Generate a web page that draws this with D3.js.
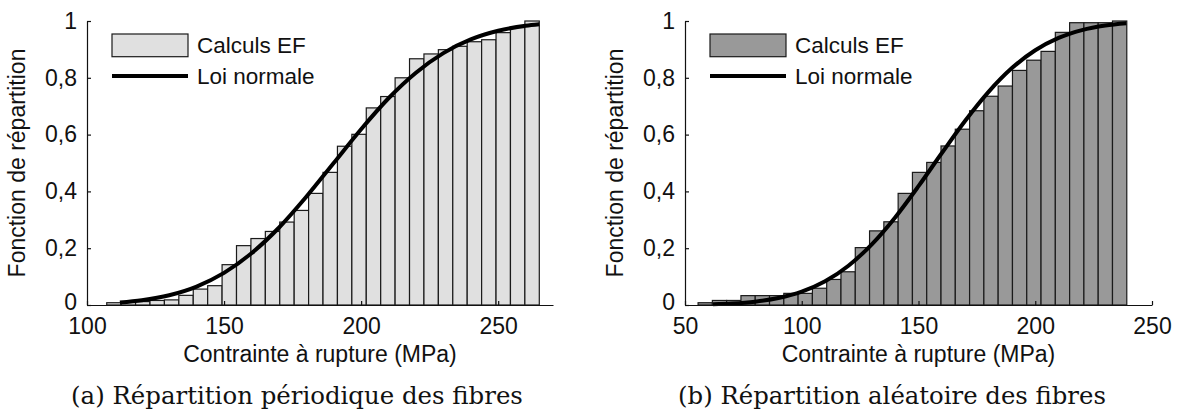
<!DOCTYPE html>
<html><head><meta charset="utf-8">
<script src="https://cdn.jsdelivr.net/npm/d3@7/dist/d3.min.js"></script>
<style>
body{margin:0;background:#fff;}
svg{display:block;}
text{font-family:"Liberation Sans",Arial,sans-serif;fill:#111;}
.cap{font-family:"DejaVu Serif",serif;}
</style></head><body>
<svg id="c" width="1178" height="415"></svg>
<script>
// ---- data ----
// (a) periodic: cumulative histogram (30 bins) between range limits
const rangeA = [107.2, 265.0];
const cdfA = [0.008,0.009,0.012,0.016,0.018,0.034,0.056,0.068,0.142,0.209,
              0.234,0.259,0.292,0.333,0.393,0.467,0.559,0.601,0.694,0.734,
              0.800,0.867,0.884,0.899,0.911,0.927,0.934,0.959,0.977,1.000];
const normXA = [112,120,130,140,150,160,170,180,190,200,210,220,230,240,250,260,265];
const normYA = [0.009,0.017,0.0345,0.065,0.113,0.182,0.272,0.381,0.500,0.619,0.728,0.818,0.887,0.935,0.9655,0.983,0.9885];
const ticksXA = [100,150,200,250];
const domainXA = [100,270];

// (b) random
const rangeB = [55.6, 239.2];
const cdfB = [0.008,0.016,0.016,0.033,0.033,0.033,0.041,0.041,0.059,0.090,
              0.117,0.202,0.261,0.293,0.393,0.467,0.502,0.560,0.619,0.684,
              0.735,0.771,0.826,0.862,0.893,0.960,0.994,0.994,0.994,1.000];
const normXB = [62,70,80,90,100,110,120,130,140,150,160,170,180,190,200,210,220,230,239];
const normYB = [0.0026,0.0052,0.0118,0.0244,0.0468,0.0835,0.1383,0.2136,0.3085,0.4184,0.5351,0.6488,0.7506,0.8342,0.8970,0.9405,0.9681,0.9841,0.9921];
const ticksXB = [50,100,150,200,250];
const domainXB = [50,250];

const ticksY = [0,0.2,0.4,0.6,0.8,1];
const yLabel = "Fonction de répartition";
const xLabel = "Contrainte à rupture (MPa)";
const legendLabels = ["Calculs EF","Loi normale"];
const captions = ["(a) Répartition périodique des fibres","(b) Répartition aléatoire des fibres"];

// ---- drawing ----
const svg = d3.select("#c");
const FS = 23;

function panel(cfg){
  const g = svg.append("g");
  const x = d3.scaleLinear().domain(cfg.domainX).range([cfg.x0, cfg.x1]);
  const y = d3.scaleLinear().domain([0,1]).range([305, 21]);
  const n = cfg.cdf.length;
  const bw = (cfg.range[1]-cfg.range[0])/n;
  const bins = cfg.cdf.map((v,i)=>({a: cfg.range[0]+i*bw, b: cfg.range[0]+(i+1)*bw, v}));
  g.selectAll("rect.bar").data(bins).enter().append("rect")
    .attr("class","bar")
    .attr("x", d=>x(d.a)).attr("width", d=>x(d.b)-x(d.a))
    .attr("y", d=>y(d.v)).attr("height", d=>y(0)-y(d.v))
    .attr("fill", cfg.fill).attr("stroke","#1a1a1a").attr("stroke-width",1.2);
  const line = d3.line().x(d=>x(d[0])).y(d=>y(d[1])).curve(d3.curveMonotoneX);
  g.append("path").datum(d3.zip(cfg.normX, cfg.normY)).attr("d", line)
    .attr("fill","none").attr("stroke","#000").attr("stroke-width",4);

  const ax = g.append("g").attr("transform",`translate(0,${y(0)})`)
    .call(d3.axisBottom(x).tickValues(cfg.ticksX).tickFormat(d3.format("d"))
      .tickSizeInner(-4).tickSizeOuter(0).tickPadding(13));
  const ay = g.append("g").attr("transform",`translate(${cfg.x0},0)`)
    .call(d3.axisLeft(y).tickValues(ticksY)
      .tickFormat(d=> d===0?"0":d===1?"1":String(d).replace(".",","))
      .tickSizeInner(-4).tickSizeOuter(0).tickPadding(10));
  [ax,ay].forEach(a=>{
    a.selectAll("path.domain").attr("stroke","#111").attr("stroke-width",1.2);
    a.selectAll("line").attr("stroke","#111").attr("stroke-width",1.2);
    a.selectAll("text").style("font-size",FS+"px").attr("fill","#111")
      .style("font-family","'Liberation Sans',Arial,sans-serif");
  });
  ay.selectAll(".tick").filter(d=>d===0).select("text").attr("dy","0.2em");

  // titles
  g.append("text").attr("x",(cfg.x0+cfg.x1)/2).attr("y",362)
    .attr("text-anchor","middle").style("font-size",FS+"px").text(xLabel);
  g.append("text").attr("transform",`translate(${cfg.x0-62},163) rotate(-90)`)
    .attr("text-anchor","middle").style("font-size",FS+"px").text(yLabel);

  // legend
  const lx = cfg.x0+25;
  g.append("rect").attr("x",lx).attr("y",34).attr("width",76).attr("height",22.7)
    .attr("fill",cfg.fill).attr("stroke","#1a1a1a").attr("stroke-width",1.2);
  g.append("line").attr("x1",lx).attr("x2",lx+76).attr("y1",76).attr("y2",76)
    .attr("stroke","#000").attr("stroke-width",4);
  g.append("text").attr("x",lx+85).attr("y",53).style("font-size","22.5px").text(legendLabels[0]);
  g.append("text").attr("x",lx+85).attr("y",84).style("font-size","22.5px").text(legendLabels[1]);

  // caption
  const cap = g.append("text").attr("class","cap").attr("x",cfg.capX).attr("y",404)
    .attr("text-anchor","middle").style("font-size","24px").text(cfg.caption);
  const w = cap.node().getComputedTextLength();
  cap.style("font-size", (24*cfg.capW/w).toFixed(2)+"px");
}

panel({domainX:domainXA, x0:87, x1:553, range:rangeA, cdf:cdfA, normX:normXA, normY:normYA,
       ticksX:ticksXA, fill:"#e0e0e0", capX:297, capW:452, caption:captions[0]});
panel({domainX:domainXB, x0:685, x1:1152, range:rangeB, cdf:cdfB, normX:normXB, normY:normYB,
       ticksX:ticksXB, fill:"#999999", capX:892, capW:428, caption:captions[1]});
</script>
</body></html>
